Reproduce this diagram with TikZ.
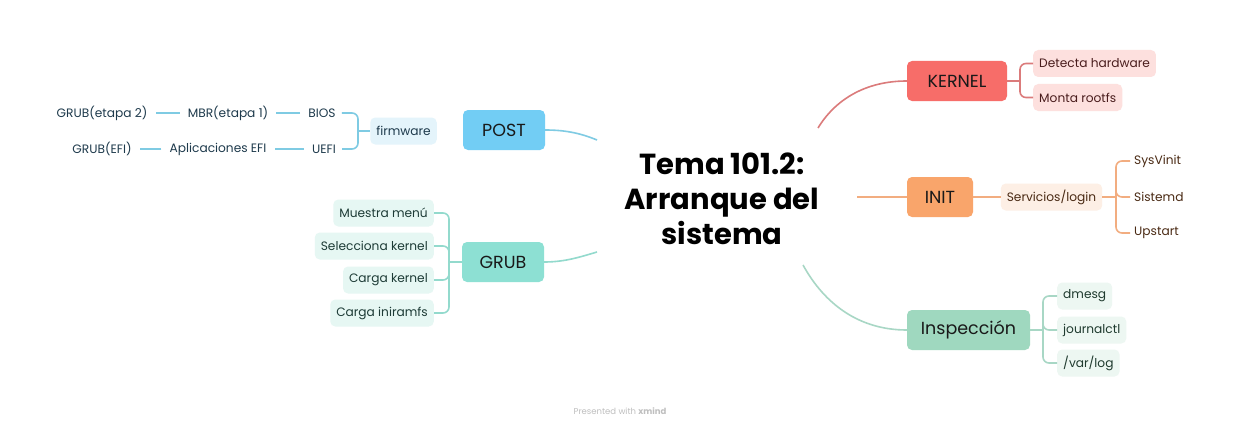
\documentclass[tikz,border=0pt]{standalone}
\usepackage{fontspec}
\setmainfont{Poppins}
\definecolor{postc}{HTML}{72CDF4}
\definecolor{postl}{HTML}{7FCBE3}
\definecolor{postf}{HTML}{E4F4FB}
\definecolor{postt}{HTML}{1E3A4C}
\definecolor{grubc}{HTML}{8DE0D3}
\definecolor{grubl}{HTML}{93DACD}
\definecolor{grubf}{HTML}{E6F7F3}
\definecolor{grubt}{HTML}{1D3B36}
\definecolor{kerc}{HTML}{F76D69}
\definecolor{kerl}{HTML}{DB7B7B}
\definecolor{kerf}{HTML}{FDE0DE}
\definecolor{kert}{HTML}{4A1D1D}
\definecolor{initc}{HTML}{F9A56B}
\definecolor{initl}{HTML}{F2AD80}
\definecolor{initf}{HTML}{FDEFE5}
\definecolor{initt}{HTML}{4A2A14}
\definecolor{insc}{HTML}{9FD8BF}
\definecolor{insl}{HTML}{A8D7C5}
\definecolor{insf}{HTML}{EDF7F2}
\definecolor{inst}{HTML}{1F3A2E}
\tikzset{
  topic/.style={rounded corners=5pt, minimum height=40pt, inner xsep=0pt, font=\fontsize{17.5}{20}\selectfont, text=black!90},
  sub/.style={rounded corners=5pt, minimum height=27pt, inner xsep=6pt, font=\fontsize{12.2}{14}\selectfont},
  leaf/.style={inner sep=0pt, font=\fontsize{12.2}{14}\selectfont},
  conn/.style={line width=1.6pt},
  brk/.style={line width=1.6pt, rounded corners=6pt},
}
\begin{document}
\begin{tikzpicture}[x=1pt,y=-1pt]
\useasboundingbox[fill=white] (0,0) rectangle (1240,428);
% central
\node[align=center, font=\fontsize{29}{35}\selectfont\bfseries] (title) at (722,199) {Tema 101.2:\\Arranque del\\sistema};
\coordinate (tpost) at (597,140);
\coordinate (tgrub) at (597,252);
\coordinate (tker) at (818,128);
\coordinate (tinit) at (857,197);
\coordinate (tins) at (803,265);

% POST
\node[topic, fill=postc, minimum width=82pt] (post) at (504,130) {POST};
\node[sub, fill=postf, text=postt, minimum width=65pt] (fw) at (403.5,131) {firmware};
\node[leaf, text=postt] (bios) at (322,113) {BIOS};
\node[leaf, text=postt] (uefi) at (324,149) {UEFI};
\node[leaf, text=postt] (mbr) at (228,113) {MBR(etapa 1)};
\node[leaf, text=postt] (grub2) at (102,113) {GRUB(etapa 2)};
\node[leaf, text=postt] (apefi) at (218,149) {Aplicaciones EFI};
\node[leaf, text=postt] (grubefi) at (102,149) {GRUB(EFI)};
\coordinate (bpost) at (358,131);
\draw[conn, postl] (post.east) .. controls (565,130) and (580,133) .. (tpost);
\draw[conn, postl] (fw.west) -- (bpost);
\draw[brk, postl] (bios.east) ++(6pt,0) -| (bpost);
\draw[brk, postl] (uefi.east) ++(6pt,0) -| (bpost);
\draw[conn, postl, line width=1.3pt] ([xshift=-8pt]bios.west) -- ([xshift=8pt]mbr.east);
\draw[conn, postl, line width=1.3pt] ([xshift=-8pt]mbr.west) -- ([xshift=8pt]grub2.east);
\draw[conn, postl, line width=1.3pt] ([xshift=-8pt]uefi.west) -- ([xshift=8pt]apefi.east);
\draw[conn, postl, line width=1.3pt] ([xshift=-8pt]apefi.west) -- ([xshift=8pt]grubefi.east);

% GRUB
\node[topic, fill=grubc, minimum width=82pt] (grub) at (503,262) {GRUB};
\node[sub, fill=grubf, text=grubt, anchor=east] (g1) at (434,213) {Muestra menú};
\node[sub, fill=grubf, text=grubt, anchor=east] (g2) at (434,246) {Selecciona kernel};
\node[sub, fill=grubf, text=grubt, anchor=east] (g3) at (434,280) {Carga kernel};
\node[sub, fill=grubf, text=grubt, anchor=east] (g4) at (434,313) {Carga iniramfs};
\coordinate (bgrub) at (449,262);
\draw[conn, grubl] (grub.east) .. controls (565,262) and (580,257) .. (tgrub);
\draw[conn, grubl] (grub.west) -- (bgrub);
\foreach \n in {g1,g2,g3,g4} \draw[brk, grubl] (\n.east) -| (bgrub);

% KERNEL
\node[topic, fill=kerc, minimum width=100pt] (ker) at (957,81) {KERNEL};
\node[sub, fill=kerf, text=kert, anchor=west] (k1) at (1033,63.5) {Detecta hardware};
\node[sub, fill=kerf, text=kert, anchor=west] (k2) at (1033,97.5) {Monta rootfs};
\coordinate (bker) at (1020,81);
\draw[conn, kerl] (tker) .. controls (835,100) and (865,81) .. (ker.west);
\draw[conn, kerl] (ker.east) -- (bker);
\foreach \n in {k1,k2} \draw[brk, kerl] (\n.west) -| (bker);

% INIT
\node[topic, fill=initc, minimum width=66pt] (init) at (940,197) {INIT};
\node[sub, fill=initf, text=initt, minimum width=101pt] (svc) at (1051.5,197) {Servicios/login};
\node[leaf, text=initt, anchor=west] (i1) at (1134,161) {SysVinit};
\node[leaf, text=initt, anchor=west] (i2) at (1134,197) {Sistemd};
\node[leaf, text=initt, anchor=west] (i3) at (1134,233) {Upstart};
\coordinate (binit) at (1116,197);
\draw[conn, initl] (tinit) -- (init.west);
\draw[conn, initl] (init.east) -- (svc.west);
\draw[conn, initl] (svc.east) -- (binit);
\foreach \n in {i1,i2,i3} \draw[brk, initl] ([xshift=-4pt]\n.west) -| (binit);

% Inspeccion
\node[topic, fill=insc, minimum width=123pt] (ins) at (968.5,330) {Inspección};
\node[sub, fill=insf, text=inst, anchor=west] (n1) at (1057,296) {dmesg};
\node[sub, fill=insf, text=inst, anchor=west] (n2) at (1057,330) {journalctl};
\node[sub, fill=insf, text=inst, anchor=west] (n3) at (1057,363) {/var/log};
\coordinate (bins) at (1043,330);
\draw[conn, insl] (tins) .. controls (825,305) and (860,330) .. (ins.west);
\draw[conn, insl] (ins.east) -- (bins);
\foreach \n in {n1,n2,n3} \draw[brk, insl] (\n.west) -| (bins);

\node[font=\fontsize{8.5}{10}\selectfont, text=black!25] (footer) at (620,411) {Presented with \textbf{xmind}};
\end{tikzpicture}
\end{document}
